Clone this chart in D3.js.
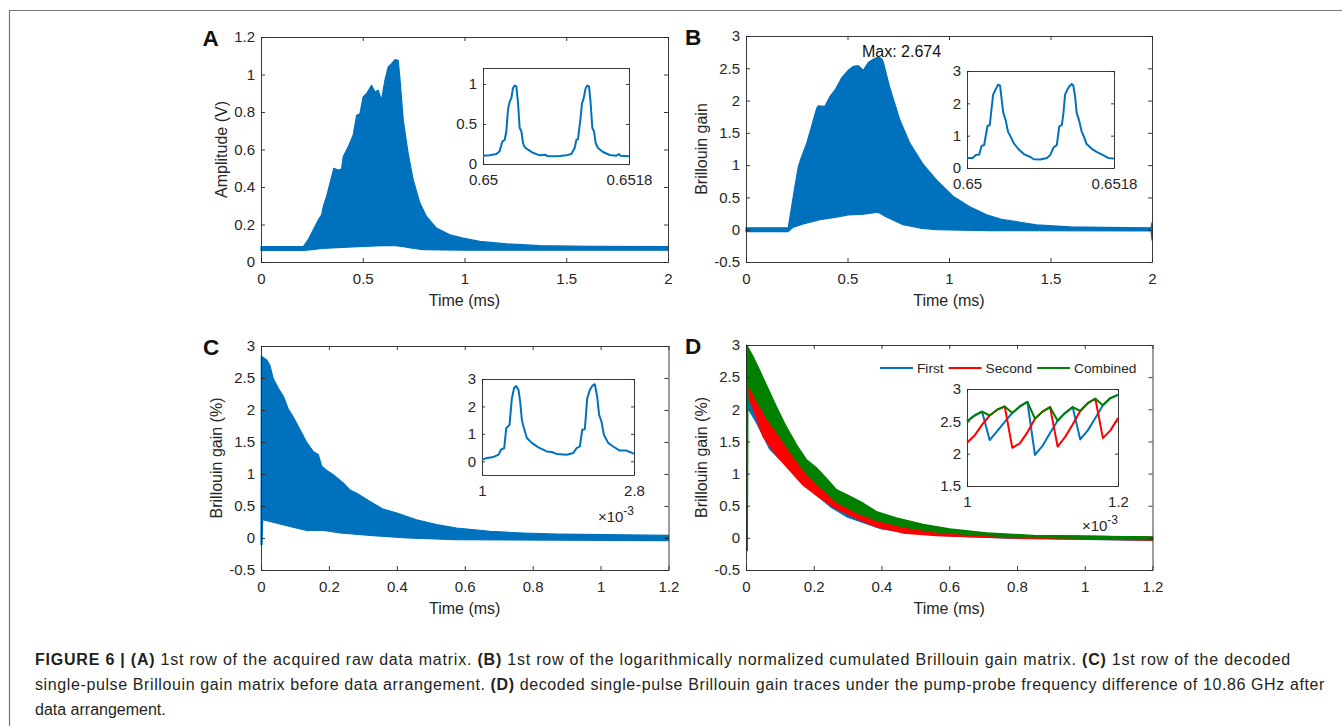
<!DOCTYPE html>
<html>
<head>
<meta charset="utf-8">
<script src="https://cdn.jsdelivr.net/npm/d3@7"></script>
<style>
body { margin: 0; background: #fff; }
svg { display: block; }
</style>
</head>
<body>
<script>
var W = 1342, H = 726
var FONT = "Arial, 'Liberation Sans', Helvetica, sans-serif"
var INK = "#262626"
var BLUE = "#0072BD", RED = "#FF0000", GREEN = "#008000"

// ---- panel A: raw amplitude, envelope of the dense trace [time ms, V]
var aTicksX = [0, 0.5, 1, 1.5, 2]
var aTicksY = [0, 0.2, 0.4, 0.6, 0.8, 1, 1.2]
var aUpper = [[0,0.082],[0.208,0.082],[0.232,0.119],[0.257,0.172],[0.282,0.225],[0.298,0.252],[0.306,0.296],
  [0.322,0.349],[0.339,0.42],[0.358,0.5],[0.38,0.49],[0.396,0.495],[0.404,0.562],[0.429,0.615],[0.453,0.677],
  [0.47,0.783],[0.486,0.79],[0.502,0.881],[0.519,0.899],[0.543,0.943],[0.56,0.907],[0.576,0.916],[0.592,0.863],
  [0.609,0.97],[0.625,1.04],[0.642,1.058],[0.658,1.079],[0.674,1.076],[0.682,0.987],[0.699,0.757],[0.723,0.58],
  [0.748,0.438],[0.781,0.314],[0.813,0.243],[0.862,0.181],[0.928,0.145],[0.993,0.128],[1.075,0.11],[1.206,0.097],
  [1.37,0.087],[1.615,0.083],[2,0.082]]
var aLower = [[0,0.062],[0.208,0.062],[0.25,0.066],[0.3,0.072],[0.4,0.078],[0.5,0.083],[0.6,0.087],[0.65,0.088],
  [0.7,0.082],[0.75,0.072],[0.8,0.066],[1,0.063],[2,0.063]]
// inset A: [µs after 0.65 ms, V]
var aInsetTicks = [0, 1.8], aInsetLabels = ["0.65", "0.6518"], aInsetTicksY = [0, 0.5, 1]
var aInset = [[0,0.104],[0.082,0.11],[0.164,0.125],[0.205,0.16],[0.238,0.28],[0.267,0.3],[0.288,0.41],[0.308,0.68],
  [0.329,0.78],[0.349,0.82],[0.37,0.95],[0.39,0.98],[0.411,0.97],[0.432,0.76],[0.452,0.45],[0.473,0.41],[0.493,0.26],
  [0.514,0.21],[0.555,0.18],[0.616,0.14],[0.699,0.108],[0.773,0.117],[0.789,0.1],[0.863,0.096],[0.945,0.1],
  [1.027,0.108],[1.089,0.125],[1.13,0.2],[1.151,0.3],[1.171,0.31],[1.2,0.55],[1.221,0.76],[1.241,0.82],[1.266,0.95],
  [1.286,0.98],[1.307,0.97],[1.327,0.76],[1.348,0.45],[1.368,0.41],[1.389,0.26],[1.418,0.2],[1.479,0.15],
  [1.562,0.113],[1.644,0.104],[1.677,0.125],[1.693,0.104],[1.8,0.096]]

// ---- panel B: normalized cumulated gain
var bTicksY = [-0.5, 0, 0.5, 1, 1.5, 2, 2.5, 3]
var bMax = 2.674
var bUpper = [[0,0.03],[0.208,0.03],[0.225,0.36],[0.241,0.67],[0.258,0.98],[0.274,1.13],[0.299,1.34],[0.323,1.6],
  [0.348,1.88],[0.356,1.92],[0.389,1.91],[0.413,2.06],[0.438,2.16],[0.471,2.35],[0.504,2.47],[0.528,2.53],
  [0.553,2.54],[0.578,2.47],[0.602,2.59],[0.627,2.64],[0.651,2.674],[0.668,2.65],[0.676,2.6],[0.709,2.19],
  [0.758,1.7],[0.807,1.34],[0.873,1.01],[0.938,0.77],[1.02,0.52],[1.1,0.36],[1.185,0.23],[1.267,0.155],
  [1.43,0.077],[1.595,0.045],[1.76,0.035],[1.995,0.03],[2,0.11]]
var bLower = [[0,-0.03],[0.208,-0.03],[0.233,0.04],[0.282,0.09],[0.364,0.155],[0.446,0.196],[0.504,0.23],
  [0.578,0.24],[0.651,0.27],[0.692,0.196],[0.774,0.077],[0.856,0.026],[0.938,0],[1.2,-0.015],[1.995,-0.02],[2,-0.16]]
var bInsetTicksY = [0, 1, 2, 3]
var bInset = [[0,0.31],[0.069,0.31],[0.109,0.4],[0.15,0.42],[0.178,0.68],[0.21,0.71],[0.231,1.02],[0.251,1.3],
  [0.279,1.33],[0.299,1.8],[0.32,2.27],[0.34,2.375],[0.36,2.48],[0.38,2.58],[0.405,2.55],[0.425,2.11],[0.445,1.7],
  [0.473,1.49],[0.502,1.125],[0.534,0.97],[0.574,0.76],[0.635,0.57],[0.696,0.43],[0.777,0.34],[0.817,0.27],
  [0.898,0.26],[0.979,0.31],[1.019,0.4],[1.06,0.64],[1.1,0.71],[1.129,1.28],[1.161,1.33],[1.181,1.7],[1.201,2.27],
  [1.23,2.43],[1.254,2.53],[1.282,2.6],[1.302,2.55],[1.323,2.22],[1.343,1.7],[1.371,1.49],[1.404,1.125],
  [1.432,0.97],[1.464,0.74],[1.525,0.6],[1.586,0.5],[1.667,0.4],[1.727,0.31],[1.8,0.29]]

// ---- panel C: decoded single-pulse gain before arrangement
var cTicksX = [0, 0.2, 0.4, 0.6, 0.8, 1, 1.2]
var cUpper = [[0,-0.1],[0.001,2.84],[0.017,2.78],[0.026,2.7],[0.036,2.49],[0.051,2.34],[0.066,2.21],[0.08,2.02],
  [0.095,1.89],[0.115,1.69],[0.134,1.5],[0.154,1.35],[0.169,1.3],[0.179,1.12],[0.193,1.06],[0.213,0.99],
  [0.242,0.86],[0.262,0.75],[0.282,0.7],[0.321,0.57],[0.36,0.45],[0.4,0.39],[0.458,0.285],[0.517,0.21],
  [0.576,0.156],[0.674,0.104],[0.772,0.078],[0.87,0.062],[1.018,0.052],[1.2,0.04]]
var cLower = [[0,-0.1],[0.003,-0.1],[0.005,0.285],[0.026,0.26],[0.085,0.18],[0.134,0.12],[0.184,0.12],
  [0.233,0.078],[0.331,0.036],[0.43,0],[0.576,-0.026],[1.2,-0.04]]
// inset C: [µs, %]
var cInsetTicks = [1, 2.8], cInsetTicksY = [0, 1, 2, 3]
var cInset = [[1,0.06],[1.059,0.12],[1.138,0.16],[1.197,0.24],[1.224,0.42],[1.263,0.48],[1.287,1.21],[1.307,1.27],
  [1.326,1.33],[1.354,2.3],[1.381,2.68],[1.405,2.74],[1.432,2.6],[1.452,2.18],[1.472,1.51],[1.491,1.27],[1.531,0.85],
  [1.59,0.67],[1.668,0.51],[1.766,0.36],[1.825,0.34],[1.884,0.27],[2.002,0.24],[2.081,0.3],[2.12,0.48],[2.159,0.54],
  [2.187,1.15],[2.218,1.17],[2.246,2.3],[2.277,2.6],[2.309,2.76],[2.336,2.81],[2.364,2.36],[2.387,1.69],[2.415,1.45],
  [2.443,0.97],[2.494,0.67],[2.553,0.54],[2.631,0.39],[2.71,0.39],[2.749,0.34],[2.8,0.27]]

// ---- panel D: arranged traces
var dNames = ["First", "Second", "Combined"]
var dColors = [BLUE, RED, GREEN]
var dBlueUpper = [[0.004,2.45],[0.03,2.35],[0.06,2.1],[0.1,1.8],[0.14,1.48],[0.18,1.18],[0.22,0.95],[0.27,0.7],
  [0.33,0.5],[0.39,0.35],[0.46,0.24],[0.56,0.14],[0.66,0.08],[0.8,0.04],[1.2,0.01]]
var dBlueLower = [[0.004,2.1],[0.011,1.97],[0.03,1.8],[0.07,1.38],[0.11,1.17],[0.149,0.97],[0.188,0.76],[0.25,0.48],
  [0.3,0.32],[0.4,0.14],[0.5,0.065],[0.6,0.03],[0.8,-0.01],[1.2,-0.04]]
var dRedUpper = [[0.003,2.5],[0.03,2.35],[0.06,2.1],[0.1,1.8],[0.14,1.48],[0.18,1.18],[0.22,0.95],[0.27,0.7],
  [0.33,0.5],[0.39,0.35],[0.46,0.24],[0.56,0.14],[0.66,0.08],[0.8,0.04],[1.2,0.01]]
var dRedLower = [[0.003,2.3],[0.011,2.15],[0.05,1.58],[0.09,1.28],[0.129,1.05],[0.168,0.82],[0.218,0.62],
  [0.267,0.45],[0.326,0.3],[0.385,0.17],[0.464,0.075],[0.562,0.035],[0.76,0],[1.2,-0.036]]
var dGreenUpper = [[0.002,-0.2],[0.002,3],[0.021,2.82],[0.04,2.61],[0.06,2.38],[0.09,2.04],[0.119,1.73],
  [0.149,1.45],[0.178,1.22],[0.208,1.09],[0.237,0.93],[0.267,0.75],[0.306,0.65],[0.346,0.54],[0.385,0.41],
  [0.444,0.31],[0.523,0.21],[0.601,0.14],[0.71,0.078],[0.857,0.036],[1.2,0.015]]
var dGreenLower = [[0.002,-0.2],[0.004,-0.2],[0.006,2.4],[0.03,2.15],[0.06,1.87],[0.099,1.58],[0.139,1.27],
  [0.178,1.0],[0.218,0.79],[0.267,0.56],[0.326,0.39],[0.385,0.27],[0.464,0.17],[0.562,0.09],[0.66,0.05],
  [0.8,0.01],[1.2,-0.026]]
// inset D: µs and the three traces
var dInsetT = [1.00,1.01,1.02,1.03,1.04,1.05,1.06,1.07,1.08,1.09,1.10,1.11,1.12,1.13,1.14,1.15,1.16,1.17,1.18,1.19,1.20]
var dInsetFirst = [2.50,2.59,2.65,2.21,2.35,2.49,2.63,2.73,2.80,1.98,2.12,2.32,2.51,2.63,2.72,2.22,2.36,2.55,2.75,2.86,2.91]
var dInsetSecond = [2.17,2.28,2.45,2.59,2.68,2.73,2.09,2.16,2.33,2.54,2.65,2.72,2.11,2.26,2.45,2.66,2.78,2.85,2.24,2.36,2.55]
var dInsetCombined = [2.50,2.59,2.65,2.59,2.68,2.73,2.63,2.73,2.80,2.54,2.65,2.72,2.51,2.63,2.72,2.66,2.78,2.85,2.75,2.86,2.91]
var dInsetTicks = [1, 1.2], dInsetTicksY = [1.5, 2, 2.5, 3]

var svg = d3.select("body").append("svg")
  .attr("width", W)
  .attr("height", H)
  .style("font-family", FONT)

// page frame
svg.append("line").attr("x1", 9).attr("x2", W).attr("y1", 10.5).attr("y2", 10.5)
  .attr("stroke", "#777").attr("stroke-width", 1.2)
svg.append("line").attr("x1", 9.5).attr("x2", 9.5).attr("y1", 10).attr("y2", H)
  .attr("stroke", "#777").attr("stroke-width", 1.2)

function scales(x0, x1, y0, y1, xd, yd) {
  return {
    x: d3.scaleLinear().domain(xd).range([x0, x1]),
    y: d3.scaleLinear().domain(yd).range([y1, y0])
  }
}

function num(d) { return String(d).replace("\u2212", "-") }

// matlab style box: ticks inside on all four sides
function box(s, o) {
  var g = svg.append("g")
  var xr = s.x.range(), yr = s.y.range()
  if (o.fill) {
    g.append("rect").attr("x", xr[0]).attr("y", yr[1]).attr("width", xr[1] - xr[0]).attr("height", yr[0] - yr[1])
      .attr("fill", "#fff")
  }
  g.append("g").attr("transform", "translate(0," + yr[0] + ")")
    .call(d3.axisBottom(s.x).tickValues(o.xt).tickSize(-o.tl).tickSizeOuter(0).tickPadding(o.px)
      .tickFormat(function(d, i) { return o.xl ? o.xl[i] : num(d) }))
  g.append("g").attr("transform", "translate(0," + yr[1] + ")")
    .call(d3.axisTop(s.x).tickValues(o.xt).tickSize(-o.tl).tickSizeOuter(0).tickFormat(""))
  g.append("g").attr("transform", "translate(" + xr[0] + ",0)")
    .call(d3.axisLeft(s.y).tickValues(o.yt).tickSize(-o.tl).tickSizeOuter(0).tickPadding(o.py).tickFormat(num))
  g.append("g").attr("transform", "translate(" + xr[1] + ",0)")
    .call(d3.axisRight(s.y).tickValues(o.yt).tickSize(-o.tl).tickSizeOuter(0).tickFormat(""))
  g.selectAll(".domain, .tick line").attr("stroke", INK).attr("stroke-width", 0.9)
  g.selectAll("text").attr("fill", INK).style("font-size", "15px").style("font-family", FONT)
  return g
}

function labels(s, xlab, ylab, ylx, letter, lx) {
  var xr = s.x.range(), yr = s.y.range()
  svg.append("text").attr("x", (xr[0] + xr[1]) / 2).attr("y", yr[0] + 44)
    .attr("text-anchor", "middle").attr("fill", INK).style("font-size", "16px").text(xlab)
  svg.append("text").attr("transform", "translate(" + ylx + "," + (yr[0] + yr[1]) / 2 + ") rotate(-90)")
    .attr("text-anchor", "middle").attr("fill", INK).style("font-size", "16px").text(ylab)
  svg.append("text").attr("x", lx).attr("y", yr[1] + 8.5)
    .attr("fill", "#111").style("font-size", "22.5px").style("font-weight", "bold").text(letter)
}

var line = function(s) {
  return d3.line().x(function(d) { return s.x(d[0]) }).y(function(d) { return s.y(d[1]) })
}

function band(s, upper, lower, col) {
  var pts = upper.concat(lower.slice().reverse())
  svg.append("path").attr("d", line(s)(pts) + "Z")
    .attr("fill", col).attr("stroke", col).attr("stroke-width", 1.2).attr("stroke-linejoin", "round")
}

function trace(s, pts, col) {
  svg.append("path").attr("d", line(s)(pts))
    .attr("fill", "none").attr("stroke", col).attr("stroke-width", 2).attr("stroke-linejoin", "round")
}

function exponent(x, y) {
  var t = svg.append("text").attr("x", x).attr("y", y).attr("text-anchor", "end")
    .attr("fill", INK).style("font-size", "15px")
  t.append("tspan").text("\u00d710")
  t.append("tspan").attr("dy", -7).style("font-size", "12px").text("-3")
}

// ---------- A
var sA = scales(261, 668, 37, 262, [0, 2], [0, 1.2])
band(sA, aUpper, aLower, BLUE)
box(sA, { xt: aTicksX, yt: aTicksY, tl: 4, px: 11, py: 6 })
labels(sA, "Time (ms)", "Amplitude (V)", 227, "A", 202.5)
var iA = scales(483, 629, 68, 164, [0, 1.8], [0, 1.2])
box(iA, { xt: aInsetTicks, xl: aInsetLabels, yt: aInsetTicksY, tl: 3, px: 10, py: 6, fill: true })
trace(iA, aInset, BLUE)

// ---------- B
var sB = scales(746, 1152, 36, 262, [0, 2], [-0.5, 3])
band(sB, bUpper, bLower, BLUE)
box(sB, { xt: aTicksX, yt: bTicksY, tl: 4, px: 11, py: 6 })
labels(sB, "Time (ms)", "Brillouin gain", 707, "B", 685)
svg.append("text").attr("x", 862).attr("y", 56.5).attr("fill", "#111").style("font-size", "16px")
  .text("Max: " + bMax)
var iB = scales(967, 1114, 71, 168, [0, 1.8], [0, 3])
box(iB, { xt: aInsetTicks, xl: aInsetLabels, yt: bInsetTicksY, tl: 3, px: 10, py: 6, fill: true })
trace(iB, bInset, BLUE)

// ---------- C
var sC = scales(261, 668.5, 346, 570, [0, 1.2], [-0.5, 3])
band(sC, cUpper, cLower, BLUE)
box(sC, { xt: cTicksX, yt: bTicksY, tl: 4, px: 11, py: 6 })
labels(sC, "Time (ms)", "Brillouin gain (%)", 222, "C", 203)
var iC = scales(482, 634, 379, 475, [1, 2.8], [-0.5, 3])
box(iC, { xt: cInsetTicks, yt: cInsetTicksY, tl: 3, px: 10, py: 6, fill: true })
trace(iC, cInset, BLUE)
exponent(634, 522)

// ---------- D
var sD = scales(746, 1152.5, 345, 570, [0, 1.2], [-0.5, 3])
band(sD, dBlueUpper, dBlueLower, BLUE)
band(sD, dRedUpper, dRedLower, RED)
band(sD, dGreenUpper, dGreenLower, GREEN)
box(sD, { xt: cTicksX, yt: bTicksY, tl: 4, px: 11, py: 6 })
labels(sD, "Time (ms)", "Brillouin gain (%)", 707, "D", 685)
var iD = scales(967, 1118, 389, 486, [1, 1.2], [1.5, 3])
box(iD, { xt: dInsetTicks, yt: dInsetTicksY, tl: 3, px: 10, py: 6, fill: true })
var dInsetSeries = [dInsetFirst, dInsetSecond, dInsetCombined]
dInsetSeries.forEach(function(vals, k) {
  trace(iD, vals.map(function(v, i) { return [dInsetT[i], v] }), dColors[k])
})
exponent(1118, 531)

// legend, laid out left to right
var lx = 880
dNames.forEach(function(name, k) {
  svg.append("line").attr("x1", lx).attr("x2", lx + 33).attr("y1", 368).attr("y2", 368)
    .attr("stroke", dColors[k]).attr("stroke-width", 2)
  var t = svg.append("text").attr("x", lx + 37).attr("y", 373).attr("fill", INK)
    .style("font-size", "13.7px").text(name)
  lx += 37 + t.node().getComputedTextLength() + 5
})

// ---------- caption
var caption = [
  [["FIGURE 6 | (A)", 1], [" 1st row of the acquired raw data matrix. ", 0], ["(B)", 1],
   [" 1st row of the logarithmically normalized cumulated Brillouin gain matrix. ", 0], ["(C)", 1],
   [" 1st row of the decoded", 0]],
  [["single-pulse Brillouin gain matrix before data arrangement. ", 0], ["(D)", 1],
   [" decoded single-pulse Brillouin gain traces under the pump-probe frequency difference of 10.86 GHz after", 0]],
  [["data arrangement.", 0]]
]
var capY = [665, 690, 715]
var capEnd = [1291, 1325, null]
caption.forEach(function(parts, i) {
  var t = svg.append("text").attr("x", 35).attr("y", capY[i]).attr("fill", "#231f20")
    .style("font-size", "16px").attr("xml:space", "preserve")
  parts.forEach(function(p) {
    t.append("tspan").style("font-weight", p[1] ? "bold" : "normal").text(p[0])
  })
  if (capEnd[i]) {
    // spread the line to the width it has in the printed caption
    var n = parts.map(function(p) { return p[0] }).join("").length
    var extra = (capEnd[i] - 35 - t.node().getComputedTextLength()) / n
    t.style("letter-spacing", extra + "px")
  }
})
</script>
</body>
</html>
